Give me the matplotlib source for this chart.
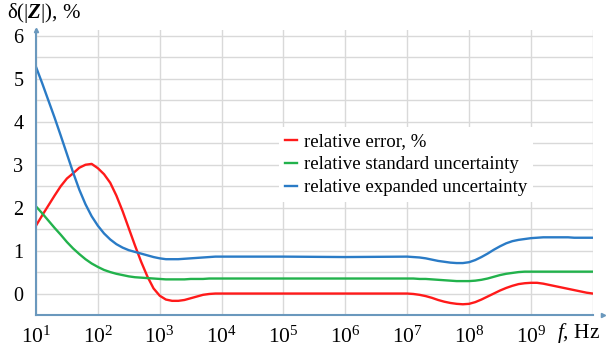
import numpy as np
import matplotlib.pyplot as plt

plt.rcParams['font.family'] = ['Liberation Serif', 'DejaVu Serif']
plt.rcParams['mathtext.fontset'] = 'custom'
plt.rcParams['mathtext.rm'] = 'Liberation Serif'
plt.rcParams['mathtext.it'] = 'Liberation Serif:italic'
plt.rcParams['mathtext.bf'] = 'Liberation Serif:bold'
plt.rcParams['mathtext.bfit'] = 'Liberation Serif:italic:bold'

# log10 of frequency, Hz
log_f = [1.0, 1.1, 1.2, 1.3, 1.4, 1.5, 1.6, 1.7, 1.8, 1.9,
         2.0, 2.1, 2.2, 2.3, 2.4, 2.5, 2.6, 2.7, 2.8, 2.9,
         3.0, 3.1, 3.2, 3.3, 3.4, 3.5, 3.6, 3.7, 3.8, 3.9,
         4.0, 5.0, 6.0,
         7.0, 7.1, 7.2, 7.3, 7.4, 7.5, 7.6, 7.7, 7.8, 7.9,
         8.0, 8.1, 8.2, 8.3, 8.4, 8.5, 8.6, 8.7, 8.8, 8.9,
         9.0, 9.1, 9.2, 9.3, 9.4, 9.5, 9.6, 9.7, 9.8, 9.9, 10.0]

rel_error = [1.58, 1.82, 2.05, 2.28, 2.5, 2.68, 2.8, 2.93, 3.0, 3.02,
             2.92, 2.78, 2.58, 2.28, 1.92, 1.52, 1.12, 0.74, 0.4, 0.12,
             -0.05, -0.14, -0.17, -0.17, -0.15, -0.11, -0.07, -0.03, -0.01, 0.0,
             0.0, 0.0, 0.0,
             0.0, -0.01, -0.03, -0.06, -0.1, -0.15, -0.19, -0.22, -0.24, -0.25,
             -0.24, -0.2, -0.14, -0.07, 0.0, 0.07, 0.13, 0.18, 0.22, 0.24,
             0.25, 0.25, 0.23, 0.2, 0.17, 0.14, 0.11, 0.08, 0.05, 0.02, 0.0]
rel_std = [2.03, 1.87, 1.7, 1.53, 1.37, 1.2, 1.05, 0.92, 0.8, 0.7,
           0.62, 0.55, 0.5, 0.46, 0.43, 0.4, 0.38, 0.37, 0.36, 0.35,
           0.34, 0.33, 0.33, 0.33, 0.33, 0.34, 0.34, 0.34, 0.35, 0.35,
           0.35, 0.35, 0.35,
           0.35, 0.35, 0.34, 0.34, 0.33, 0.32, 0.31, 0.3, 0.29, 0.29,
           0.29, 0.3, 0.32, 0.35, 0.39, 0.43, 0.46, 0.48, 0.5, 0.51,
           0.51, 0.51, 0.51, 0.51, 0.51, 0.51, 0.51, 0.51, 0.51, 0.51, 0.51]
rel_exp = [5.28, 4.9, 4.5, 4.1, 3.68, 3.25, 2.82, 2.42, 2.08, 1.8,
           1.58, 1.4, 1.26, 1.15, 1.07, 1.01, 0.97, 0.93, 0.89, 0.85,
           0.82, 0.8, 0.8, 0.8, 0.81, 0.82, 0.83, 0.84, 0.85, 0.86,
           0.86, 0.86, 0.85,
           0.86, 0.85, 0.84, 0.82, 0.79, 0.76, 0.74, 0.72, 0.71, 0.71,
           0.73, 0.78, 0.85, 0.93, 1.02, 1.1, 1.17, 1.22, 1.25, 1.27,
           1.29, 1.3, 1.31, 1.31, 1.31, 1.31, 1.31, 1.3, 1.3, 1.3, 1.3]

labels = ['relative error, %', 'relative standard uncertainty', 'relative expanded uncertainty']
colors = ['#ff1a1a', '#22b24c', '#2a7bc6']

freq = 10 ** np.array(log_f)

fig = plt.figure(figsize=(6.13, 3.49), dpi=100)
ax = fig.add_axes([0.0587, 0.0974, 0.9083, 0.818])

for y, lab, c in zip([rel_error, rel_std, rel_exp], labels, colors):
    ax.plot(freq, y, color=c, lw=1.7, label=lab)

ax.set_xscale('log')
ax.set_xlim(10, 1e10)
ax.set_ylim(-0.5, 6.15)
ax.set_yticks(range(0, 7))
ax.set_yticks(np.arange(-0.5, 6.1, 0.5), minor=True)
ax.set_xticks([10 ** k for k in range(1, 11)])
ax.set_xticklabels([r'$10^{%d}$' % k for k in range(1, 10)] + [''])
ax.xaxis.set_minor_locator(plt.NullLocator())
ax.grid(True, which='both', color='#d9d9d9', lw=1)
ax.tick_params(which='both', length=0)
ax.tick_params(axis='x', labelsize=15.5, pad=8)
ax.tick_params(axis='y', labelsize=14.5, pad=9)

spine_c = '#6a98bd'
for s in ['top', 'right']:
    ax.spines[s].set_visible(False)
for s in ['left', 'bottom']:
    ax.spines[s].set_color(spine_c)
    ax.spines[s].set_linewidth(1.5)
ax.plot(1.018, 0, '>', color=spine_c, ms=3, transform=ax.transAxes, clip_on=False)
ax.plot(0, 1.0, '^', color=spine_c, ms=3, transform=ax.transAxes, clip_on=False)

fig.text(0.012, 0.962, r'δ(|$\mathbfit{Z}$|), %', fontsize=15, ha='left', va='center')
fig.text(0.909, 0.045, r'$\it{f}$, Hz', fontsize=15.5, ha='left', va='center')

leg = ax.legend(loc='upper left', bbox_to_anchor=(0.42, 0.69), frameon=True, fancybox=False,
                edgecolor='none', facecolor='white', framealpha=1, fontsize=13.6,
                handlelength=0.65, handletextpad=0.35, labelspacing=0.3, borderpad=0.3)

fig.savefig('out.png', dpi=100)
